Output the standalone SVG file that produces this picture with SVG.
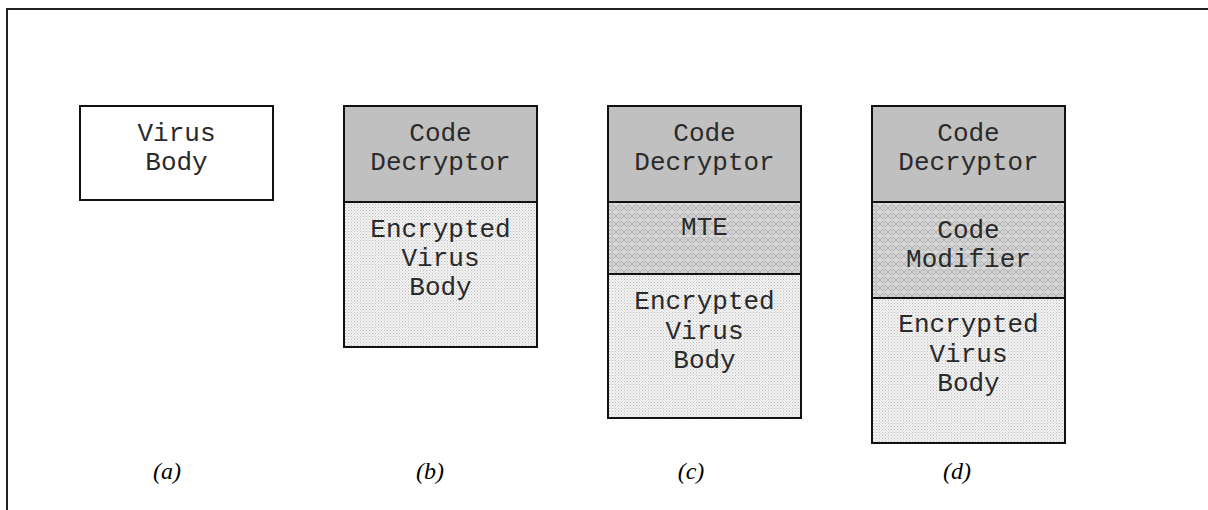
<svg xmlns="http://www.w3.org/2000/svg" width="1208" height="510" viewBox="0 0 1208 510">
  <style>
    .box { stroke: #111; stroke-width: 2; }
    .plain { fill: #ffffff; }
    .dec { fill: #c0c0c0; }
    .enc { fill: url(#dots); }
    .mesh { fill: url(#mesh); }
    .t { font-family: "Liberation Mono", "Courier New", monospace; font-size: 26px; fill: #2a2a2a; text-anchor: middle; }
    .lab { font-family: "Liberation Serif", "Times New Roman", serif; font-style: italic; font-size: 24px; fill: #000; text-anchor: middle; }
    .frame { fill: none; stroke: #222; stroke-width: 2; }
  </style>
  <defs>
    <pattern id="dots" width="3" height="3" patternUnits="userSpaceOnUse">
      <rect width="3" height="3" fill="#f2f2f2"/>
      <rect x="0" y="0" width="1" height="1" fill="#bdbdbd"/>
      <rect x="1.5" y="1.5" width="1" height="1" fill="#cfcfcf"/>
    </pattern>
    <pattern id="mesh" width="8" height="8" patternUnits="userSpaceOnUse">
      <rect width="8" height="8" fill="#d2d2d2"/>
      <path d="M0 0 L8 8 M8 0 L0 8" stroke="#b0b0b0" stroke-width="1"/>
      <rect x="3.5" y="0" width="1" height="8" fill="#bcbcbc"/>
      <rect x="0" y="3.5" width="8" height="1" fill="#e2e2e2"/>
    </pattern>
  </defs>

  <path class="frame" d="M7 510 L7 9 L1208 9"/>

  <g id="node-a">
    <rect class="box plain" x="80" y="106" width="193" height="94"/>
    <text class="t" x="176.5" y="141">Virus</text>
    <text class="t" x="176.5" y="170">Body</text>
  </g>

  <g id="node-b">
    <rect class="box dec" x="344" y="106" width="193" height="96"/>
    <rect class="box enc" x="344" y="202" width="193" height="145"/>
    <text class="t" x="440.5" y="141">Code</text>
    <text class="t" x="440.5" y="170">Decryptor</text>
    <text class="t" x="440.5" y="237">Encrypted</text>
    <text class="t" x="440.5" y="266">Virus</text>
    <text class="t" x="440.5" y="295">Body</text>
  </g>

  <g id="node-c">
    <rect class="box dec" x="608" y="106" width="193" height="96"/>
    <rect class="box mesh" x="608" y="202" width="193" height="72"/>
    <rect class="box enc" x="608" y="274" width="193" height="144"/>
    <text class="t" x="704.5" y="141">Code</text>
    <text class="t" x="704.5" y="170">Decryptor</text>
    <text class="t" x="704.5" y="235">MTE</text>
    <text class="t" x="704.5" y="309">Encrypted</text>
    <text class="t" x="704.5" y="339">Virus</text>
    <text class="t" x="704.5" y="368">Body</text>
  </g>

  <g id="node-d">
    <rect class="box dec" x="872" y="106" width="193" height="96"/>
    <rect class="box mesh" x="872" y="202" width="193" height="96"/>
    <rect class="box enc" x="872" y="298" width="193" height="145"/>
    <text class="t" x="968.5" y="141">Code</text>
    <text class="t" x="968.5" y="170">Decryptor</text>
    <text class="t" x="968.5" y="238">Code</text>
    <text class="t" x="968.5" y="267">Modifier</text>
    <text class="t" x="968.5" y="332">Encrypted</text>
    <text class="t" x="968.5" y="362">Virus</text>
    <text class="t" x="968.5" y="391">Body</text>
  </g>

  <g id="labels">
    <text class="lab" x="167" y="479">(a)</text>
    <text class="lab" x="430" y="479">(b)</text>
    <text class="lab" x="691" y="479">(c)</text>
    <text class="lab" x="957" y="479">(d)</text>
  </g>

  <g id="connectors"></g>
</svg>
